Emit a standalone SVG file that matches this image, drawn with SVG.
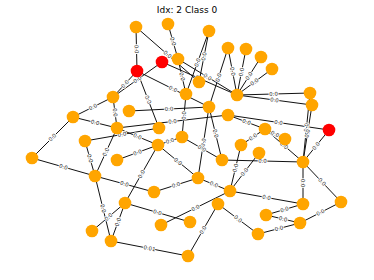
<svg xmlns="http://www.w3.org/2000/svg" xmlns:xlink="http://www.w3.org/1999/xlink" width="374" height="280" viewBox="0 0 374 280">
<style>
.e{stroke:#111;stroke-width:1;fill:none}
.l{font-family:"DejaVu Sans",sans-serif;font-size:5.4px;fill:#222;stroke:#fff;stroke-width:1.8;paint-order:stroke;text-anchor:middle}
.n{fill:#FFA500}
.r{fill:#FF0000}
.t{font-family:"DejaVu Sans",sans-serif;font-size:9px;fill:#000;text-anchor:middle}
</style>
<rect width="374" height="280" fill="#fff"/>
<text class="t" x="187" y="13">Idx: 2 Class 0</text>
<g id="connectors">
<path id="e1" class="e" d="M136 27 L137 71"/>
<path id="e2" class="e" d="M136 27 L199 82"/>
<path id="e3" class="e" d="M168 24 L178 59"/>
<path id="e4" class="e" d="M113 97 L137 71"/>
<path id="e5" class="e" d="M113 97 L162 62"/>
<path id="e6" class="e" d="M137 71 L209 107"/>
<path id="e7" class="e" d="M137 71 L159 128"/>
<path id="e9" class="e" d="M178 59 L186 94"/>
<path id="e10" class="e" d="M186 94 L209 31"/>
<path id="e11" class="e" d="M199 82 L209 31"/>
<path id="e12" class="e" d="M209 107 L228 48"/>
<path id="e13" class="e" d="M228 48 L237 95"/>
<path id="e14" class="e" d="M237 95 L246 49"/>
<path id="e15" class="e" d="M237 95 L261 57"/>
<path id="e16" class="e" d="M237 95 L272 69"/>
<path id="e17" class="e" d="M237 95 L310 93"/>
<path id="e18" class="e" d="M237 95 L312 105"/>
<path id="e19" class="e" d="M303 162 L310 93"/>
<path id="e20" class="e" d="M303 162 L312 105"/>
<path id="e21" class="e" d="M228 115 L329 130"/>
<path id="e22" class="e" d="M303 162 L329 130"/>
<path id="e23" class="e" d="M265 129 L303 162"/>
<path id="e24" class="e" d="M303 162 L303 204"/>
<path id="e25" class="e" d="M303 162 L341 202"/>
<path id="e26" class="e" d="M300 223 L341 202"/>
<path id="e27" class="e" d="M111 241 L188 256"/>
<path id="e28" class="e" d="M111 241 L125 203"/>
<path id="e29" class="e" d="M95 176 L111 241"/>
<path id="e30" class="e" d="M92 231 L125 203"/>
<path id="e31" class="e" d="M125 203 L190 222"/>
<path id="e32" class="e" d="M95 176 L154 192"/>
<path id="e33" class="e" d="M154 192 L198 178"/>
<path id="e34" class="e" d="M125 203 L158 145"/>
<path id="e35" class="e" d="M161 225 L230 191"/>
<path id="e36" class="e" d="M198 178 L230 191"/>
<path id="e37" class="e" d="M230 191 L303 204"/>
<path id="e38" class="e" d="M218 204 L258 234"/>
<path id="e39" class="e" d="M266 215 L303 204"/>
<path id="e40" class="e" d="M266 215 L300 223"/>
<path id="e41" class="e" d="M258 234 L300 223"/>
<path id="e42" class="e" d="M188 256 L218 204"/>
<path id="e43" class="e" d="M73 117 L113 97"/>
<path id="e44" class="e" d="M73 117 L117 128"/>
<path id="e45" class="e" d="M32 158 L73 117"/>
<path id="e46" class="e" d="M32 158 L95 176"/>
<path id="e47" class="e" d="M113 97 L117 128"/>
<path id="e48" class="e" d="M85 141 L95 176"/>
<path id="e49" class="e" d="M85 141 L159 128"/>
<path id="e50" class="e" d="M95 176 L117 128"/>
<path id="e51" class="e" d="M129 111 L209 107"/>
<path id="e52" class="e" d="M117 128 L158 145"/>
<path id="e53" class="e" d="M117 160 L158 145"/>
<path id="e54" class="e" d="M158 145 L182 137"/>
<path id="e55" class="e" d="M158 145 L198 178"/>
<path id="e56" class="e" d="M182 137 L186 94"/>
<path id="e57" class="e" d="M209 107 L222 160"/>
<path id="e58" class="e" d="M198 178 L209 107"/>
<path id="e59" class="e" d="M228 115 L265 129"/>
<path id="e60" class="e" d="M241 145 L265 129"/>
<path id="e61" class="e" d="M265 129 L285 139"/>
<path id="e62" class="e" d="M222 160 L303 162"/>
<path id="e63" class="e" d="M230 191 L241 145"/>
<path id="e64" class="e" d="M230 191 L259 153"/>
<path id="e65" class="e" d="M182 137 L222 160"/>
<path id="e66" class="e" d="M162 62 L237 95"/>
<path id="e67" class="e" d="M178 59 L237 95"/>
<path id="e68" class="e" d="M117 128 L228 115"/>
</g>
<g id="edge-labels">
<text class="l" dy="1.8"><textPath href="#e1" startOffset="50%">0.0</textPath></text>
<text class="l" dy="1.8"><textPath href="#e2" startOffset="50%">0.0</textPath></text>
<text class="l" dy="1.8"><textPath href="#e3" startOffset="50%">0.0</textPath></text>
<text class="l" dy="1.8"><textPath href="#e4" startOffset="50%">0.0</textPath></text>
<text class="l" dy="1.8"><textPath href="#e5" startOffset="50%">0.0</textPath></text>
<text class="l" dy="1.8"><textPath href="#e6" startOffset="50%">0.0</textPath></text>
<text class="l" dy="1.8"><textPath href="#e7" startOffset="50%">0.0</textPath></text>
<text class="l" dy="1.8"><textPath href="#e9" startOffset="50%">0.0</textPath></text>
<text class="l" dy="1.8"><textPath href="#e10" startOffset="50%">0.0</textPath></text>
<text class="l" dy="1.8"><textPath href="#e11" startOffset="50%">0.0</textPath></text>
<text class="l" dy="1.8"><textPath href="#e12" startOffset="50%">0.0</textPath></text>
<text class="l" dy="1.8"><textPath href="#e13" startOffset="50%">0.0</textPath></text>
<text class="l" dy="1.8"><textPath href="#e14" startOffset="50%">0.0</textPath></text>
<text class="l" dy="1.8"><textPath href="#e15" startOffset="50%">0.0</textPath></text>
<text class="l" dy="1.8"><textPath href="#e16" startOffset="50%">0.0</textPath></text>
<text class="l" dy="1.8"><textPath href="#e17" startOffset="50%">0.0</textPath></text>
<text class="l" dy="1.8"><textPath href="#e18" startOffset="50%">0.0</textPath></text>
<text class="l" dy="1.8"><textPath href="#e19" startOffset="50%">0.0</textPath></text>
<text class="l" dy="1.8"><textPath href="#e20" startOffset="50%">0.0</textPath></text>
<text class="l" dy="1.8"><textPath href="#e21" startOffset="50%">0.0</textPath></text>
<text class="l" dy="1.8"><textPath href="#e22" startOffset="50%">0.0</textPath></text>
<text class="l" dy="1.8"><textPath href="#e23" startOffset="50%">0.0</textPath></text>
<text class="l" dy="1.8"><textPath href="#e24" startOffset="50%">0.0</textPath></text>
<text class="l" dy="1.8"><textPath href="#e25" startOffset="50%">0.0</textPath></text>
<text class="l" dy="1.8"><textPath href="#e26" startOffset="50%">0.0</textPath></text>
<text class="l" dy="1.8"><textPath href="#e27" startOffset="50%">0.01</textPath></text>
<text class="l" dy="1.8"><textPath href="#e28" startOffset="50%">0.0</textPath></text>
<text class="l" dy="1.8"><textPath href="#e29" startOffset="50%">0.0</textPath></text>
<text class="l" dy="1.8"><textPath href="#e30" startOffset="50%">0.0</textPath></text>
<text class="l" dy="1.8"><textPath href="#e31" startOffset="50%">0.0</textPath></text>
<text class="l" dy="1.8"><textPath href="#e32" startOffset="50%">0.0</textPath></text>
<text class="l" dy="1.8"><textPath href="#e33" startOffset="50%">0.0</textPath></text>
<text class="l" dy="1.8"><textPath href="#e34" startOffset="50%">0.0</textPath></text>
<text class="l" dy="1.8"><textPath href="#e35" startOffset="50%">0.0</textPath></text>
<text class="l" dy="1.8"><textPath href="#e36" startOffset="50%">0.0</textPath></text>
<text class="l" dy="1.8"><textPath href="#e37" startOffset="50%">0.0</textPath></text>
<text class="l" dy="1.8"><textPath href="#e38" startOffset="50%">0.0</textPath></text>
<text class="l" dy="1.8"><textPath href="#e39" startOffset="50%">0.0</textPath></text>
<text class="l" dy="1.8"><textPath href="#e40" startOffset="50%">0.0</textPath></text>
<text class="l" dy="1.8"><textPath href="#e41" startOffset="50%">0.0</textPath></text>
<text class="l" dy="1.8"><textPath href="#e42" startOffset="50%">0.0</textPath></text>
<text class="l" dy="1.8"><textPath href="#e43" startOffset="50%">0.0</textPath></text>
<text class="l" dy="1.8"><textPath href="#e44" startOffset="50%">0.0</textPath></text>
<text class="l" dy="1.8"><textPath href="#e45" startOffset="50%">0.0</textPath></text>
<text class="l" dy="1.8"><textPath href="#e46" startOffset="50%">0.0</textPath></text>
<text class="l" dy="1.8"><textPath href="#e47" startOffset="50%">0.0</textPath></text>
<text class="l" dy="1.8"><textPath href="#e48" startOffset="50%">0.0</textPath></text>
<text class="l" dy="1.8"><textPath href="#e49" startOffset="50%">0.0</textPath></text>
<text class="l" dy="1.8"><textPath href="#e50" startOffset="50%">0.0</textPath></text>
<text class="l" dy="1.8"><textPath href="#e51" startOffset="50%">0.0</textPath></text>
<text class="l" dy="1.8"><textPath href="#e52" startOffset="50%">0.0</textPath></text>
<text class="l" dy="1.8"><textPath href="#e53" startOffset="50%">0.0</textPath></text>
<text class="l" dy="1.8"><textPath href="#e54" startOffset="50%">0.0</textPath></text>
<text class="l" dy="1.8"><textPath href="#e55" startOffset="50%">0.0</textPath></text>
<text class="l" dy="1.8"><textPath href="#e56" startOffset="50%">0.0</textPath></text>
<text class="l" dy="1.8"><textPath href="#e57" startOffset="50%">0.0</textPath></text>
<text class="l" dy="1.8"><textPath href="#e58" startOffset="50%">0.0</textPath></text>
<text class="l" dy="1.8"><textPath href="#e59" startOffset="50%">0.0</textPath></text>
<text class="l" dy="1.8"><textPath href="#e60" startOffset="50%">0.0</textPath></text>
<text class="l" dy="1.8"><textPath href="#e61" startOffset="50%">0.0</textPath></text>
<text class="l" dy="1.8"><textPath href="#e62" startOffset="50%">0.0</textPath></text>
<text class="l" dy="1.8"><textPath href="#e63" startOffset="50%">0.0</textPath></text>
<text class="l" dy="1.8"><textPath href="#e64" startOffset="50%">0.0</textPath></text>
<text class="l" dy="1.8"><textPath href="#e65" startOffset="50%">0.0</textPath></text>
<text class="l" dy="1.8"><textPath href="#e66" startOffset="50%">0.0</textPath></text>
<text class="l" dy="1.8"><textPath href="#e67" startOffset="50%">0.0</textPath></text>
<text class="l" dy="1.8"><textPath href="#e68" startOffset="50%">0.0</textPath></text>
</g>
<g id="nodes">
<g id="n1"><circle class="n" cx="136" cy="27" r="6.3"/></g>
<g id="n2"><circle class="n" cx="168" cy="24" r="6.3"/></g>
<g id="n3"><circle class="n" cx="209" cy="31" r="6.3"/></g>
<g id="n4"><circle class="n" cx="228" cy="48" r="6.3"/></g>
<g id="n5"><circle class="n" cx="246" cy="49" r="6.3"/></g>
<g id="n6"><circle class="n" cx="261" cy="57" r="6.3"/></g>
<g id="n7"><circle class="n" cx="272" cy="69" r="6.3"/></g>
<g id="n8"><circle class="r" cx="137" cy="71" r="6.3"/></g>
<g id="n9"><circle class="r" cx="162" cy="62" r="6.3"/></g>
<g id="n10"><circle class="n" cx="178" cy="59" r="6.3"/></g>
<g id="n11"><circle class="n" cx="199" cy="82" r="6.3"/></g>
<g id="n12"><circle class="n" cx="186" cy="94" r="6.3"/></g>
<g id="n13"><circle class="n" cx="113" cy="97" r="6.3"/></g>
<g id="n14"><circle class="n" cx="237" cy="95" r="6.3"/></g>
<g id="n15"><circle class="n" cx="310" cy="93" r="6.3"/></g>
<g id="n16"><circle class="n" cx="312" cy="105" r="6.3"/></g>
<g id="n17"><circle class="r" cx="329" cy="130" r="6.3"/></g>
<g id="n18"><circle class="n" cx="285" cy="139" r="6.3"/></g>
<g id="n19"><circle class="n" cx="303" cy="162" r="6.3"/></g>
<g id="n20"><circle class="n" cx="73" cy="117" r="6.3"/></g>
<g id="n21"><circle class="n" cx="117" cy="128" r="6.3"/></g>
<g id="n22"><circle class="n" cx="129" cy="111" r="6.3"/></g>
<g id="n23"><circle class="n" cx="159" cy="128" r="6.3"/></g>
<g id="n24"><circle class="n" cx="182" cy="137" r="6.3"/></g>
<g id="n25"><circle class="n" cx="158" cy="145" r="6.3"/></g>
<g id="n26"><circle class="n" cx="85" cy="141" r="6.3"/></g>
<g id="n27"><circle class="n" cx="32" cy="158" r="6.3"/></g>
<g id="n28"><circle class="n" cx="95" cy="176" r="6.3"/></g>
<g id="n29"><circle class="n" cx="117" cy="160" r="6.3"/></g>
<g id="n30"><circle class="n" cx="209" cy="107" r="6.3"/></g>
<g id="n31"><circle class="n" cx="228" cy="115" r="6.3"/></g>
<g id="n32"><circle class="n" cx="265" cy="129" r="6.3"/></g>
<g id="n33"><circle class="n" cx="241" cy="145" r="6.3"/></g>
<g id="n34"><circle class="n" cx="259" cy="153" r="6.3"/></g>
<g id="n35"><circle class="n" cx="222" cy="160" r="6.3"/></g>
<g id="n36"><circle class="n" cx="198" cy="178" r="6.3"/></g>
<g id="n37"><circle class="n" cx="92" cy="231" r="6.3"/></g>
<g id="n38"><circle class="n" cx="111" cy="241" r="6.3"/></g>
<g id="n39"><circle class="n" cx="154" cy="192" r="6.3"/></g>
<g id="n40"><circle class="n" cx="125" cy="203" r="6.3"/></g>
<g id="n41"><circle class="n" cx="161" cy="225" r="6.3"/></g>
<g id="n42"><circle class="n" cx="190" cy="222" r="6.3"/></g>
<g id="n43"><circle class="n" cx="188" cy="256" r="6.3"/></g>
<g id="n44"><circle class="n" cx="230" cy="191" r="6.3"/></g>
<g id="n45"><circle class="n" cx="218" cy="204" r="6.3"/></g>
<g id="n46"><circle class="n" cx="266" cy="215" r="6.3"/></g>
<g id="n47"><circle class="n" cx="258" cy="234" r="6.3"/></g>
<g id="n48"><circle class="n" cx="303" cy="204" r="6.3"/></g>
<g id="n49"><circle class="n" cx="341" cy="202" r="6.3"/></g>
<g id="n50"><circle class="n" cx="300" cy="223" r="6.3"/></g>
</g>
</svg>
